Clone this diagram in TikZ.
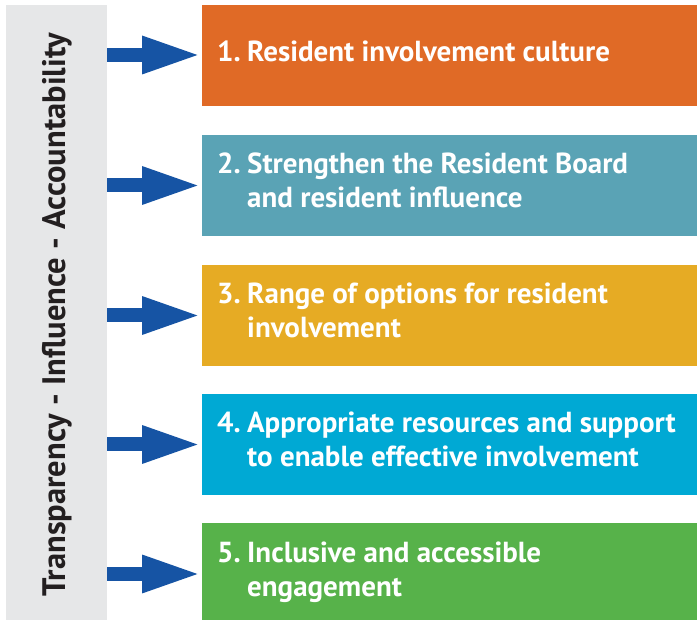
\documentclass[tikz,border=0pt]{standalone}
\usepackage{fontspec}
\setmainfont{PT Sans}
\usetikzlibrary{arrows.meta,calc}
\definecolor{cgrey}{HTML}{E6E7E8}
\definecolor{cblue}{HTML}{1654A4}
\definecolor{corange}{HTML}{E06A26}
\definecolor{cteal}{HTML}{5AA3B5}
\definecolor{cyellow}{HTML}{E6AB24}
\definecolor{ccyan}{HTML}{00A9D4}
\definecolor{cgreen}{HTML}{57B24A}
\definecolor{ctext}{HTML}{231F20}
\begin{document}
\begin{tikzpicture}[x=1pt,y=-1pt,
  box/.style={draw=none,inner sep=0pt,outer sep=0pt,anchor=north west,minimum width=495pt,minimum height=101pt},
  lbl/.style={anchor=base west,inner sep=0pt,text=white,font=\bfseries\fontsize{29}{34}\selectfont},
  arr/.style={draw=cblue,line width=14pt,-{Triangle[length=60pt,width=34pt]}}]
\useasboundingbox (0,0) rectangle (697,620);
\node[box,fill=cgrey,minimum width=101pt,minimum height=615pt] (bar) at (6,5) {};
\node[rotate=90,inner sep=0pt,text=ctext,font=\bfseries\fontsize{32.5}{36}\selectfont,anchor=base] (vt) at (65,314.5) {Transparency - Influence - Accountability};
\node[box,fill=corange] (b1) at (202,5) {};
\node[box,fill=cteal] (b2) at (202,135) {};
\node[box,fill=cyellow] (b3) at (202,265) {};
\node[box,fill=ccyan] (b4) at (202,394) {};
\node[box,fill=cgreen,minimum height=97pt] (b5) at (202,523) {};
\newcommand{\boxtext}[2]{\parbox[t]{475pt}{\raggedright\makebox[30pt][l]{#1}#2}}
\node[lbl] (t1) at ($(b1.north west)+(15,57)$) {\boxtext{1.}{Resident involvement culture}};
\node[lbl] (t2) at ($(b2.north west)+(15,39)$) {\boxtext{2.}{Strengthen the Resident Board\\\hspace*{30pt}and resident influence}};
\node[lbl] (t3) at ($(b3.north west)+(15,39)$) {\boxtext{3.}{Range of options for resident\\\hspace*{30pt}involvement}};
\node[lbl] (t4) at ($(b4.north west)+(15,39)$) {\boxtext{4.}{Appropriate resources and support\\\hspace*{30pt}to enable effective involvement}};
\node[lbl] (t5) at ($(b5.north west)+(15,39)$) {\boxtext{5.}{Inclusive and accessible\\\hspace*{30pt}engagement}};
\draw[arr] (bar.east |- 0,55) -- (b1.west |- 0,55);
\draw[arr] (bar.east |- b2.west) -- (b2.west);
\draw[arr] (bar.east |- b3.west) -- (b3.west);
\draw[arr] (bar.east |- b4.west) -- (b4.west);
\draw[arr] (bar.east |- 0,574) -- (b5.west |- 0,574);
\end{tikzpicture}
\end{document}
